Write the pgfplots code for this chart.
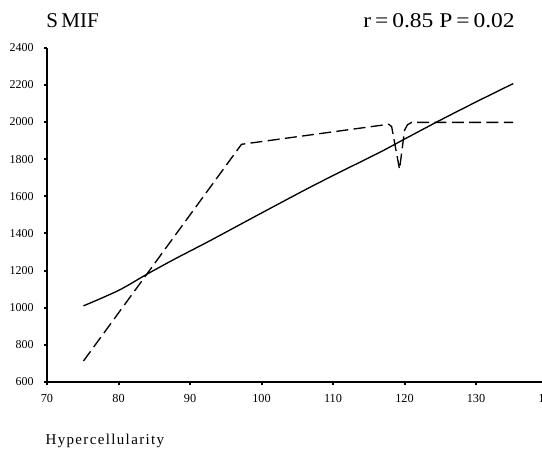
\documentclass[border=0pt]{standalone}
\usepackage{pgfplots}
\pgfplotsset{compat=1.18}
\usepackage{graphicx}
\usepackage{fontspec}
\setmainfont{Liberation Serif}
\begin{document}
\begin{tikzpicture}[x=1pt,y=1pt]
\useasboundingbox (0,0) rectangle (406.5,-339);
\begin{axis}[
  at={(35.25pt,-286.5pt)}, anchor=south west,
  width=375.4pt, height=250.7pt, scale only axis,
  xmin=70, xmax=140, ymin=600, ymax=2400,
  xtick={70,80,...,140}, ytick={600,800,...,2400},
  axis x line=bottom, axis y line=left,
  axis line style={-, line width=1pt},
  tick align=outside, major tick length=1.9pt,
  tick style={line width=1.5pt, black},
  /pgf/number format/assume math mode=true,
  /pgf/number format/1000 sep={},
  scaled ticks=false,
  xticklabel style={font=\fontsize{9.2}{10}\selectfont, inner sep=0pt, yshift=-7.5pt},
  yticklabel style={font=\fontsize{9}{10}\selectfont, inner sep=0pt, xshift=-8pt},
  clip=false,
]
\addplot[black, line width=1pt, smooth] coordinates {
 (75.1,1010) (80,1093) (84,1181) (88,1265) (92.8,1361) (100,1510)
 (106.8,1649) (112,1750) (116.6,1838) (120,1908) (125,2010) (130,2108) (135.2,2207)
};
\addplot[black, line width=1pt, dash pattern=on 9pt off 4pt] coordinates {
 (75.1,713) (97.2,1880) (117.8,1988) (118.2,1975) (119.3,1745) (120.0,1955)
 (120.4,1985) (121.0,1998) (135.2,1998)
};
\end{axis}
\node[anchor=base west, inner sep=0pt, font=\fontsize{15.75}{18}\selectfont] at (34.5,-20.8) {S\,MIF};
\node[anchor=base east, inner sep=0pt, font=\fontsize{15.75}{18}\selectfont] at (386.25,-20.8) {\scalebox{1.12}[1]{r\,=\,0.85\ P\,=\,0.02}};
\node[anchor=base west, inner sep=0pt, font=\fontsize{11.25}{13}\selectfont\addfontfeature{LetterSpace=9}] at (34,-333) {Hypercellularity};
\end{tikzpicture}
\end{document}
